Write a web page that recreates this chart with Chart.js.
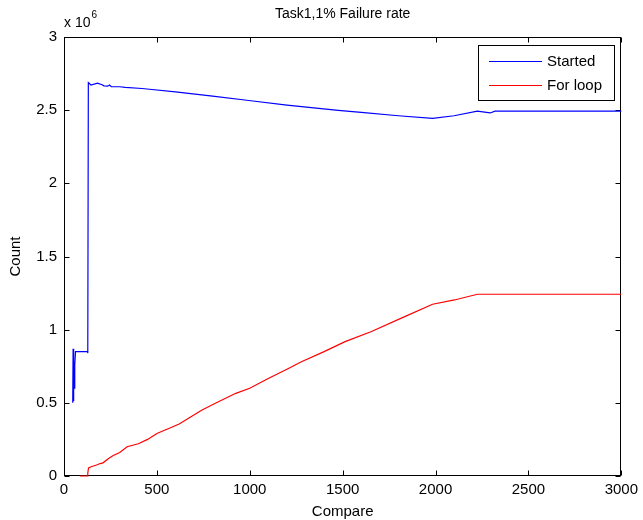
<!DOCTYPE html>
<html>
<head>
<meta charset="utf-8">
<script src="https://cdn.jsdelivr.net/npm/chart.js@4"></script>
<style>
  body { margin: 0; background: #fff; }
</style>
</head>
<body>
<canvas id="myChart" width="643" height="520"></canvas>
<script>
// donnees (y en millions)
var startedX = [47, 49, 51, 53, 55, 58, 62, 127, 128, 131, 145, 180, 205, 215, 235, 245, 255, 300, 330, 420, 460, 600, 800, 995, 1200, 1476, 1600, 1800, 1984, 2100, 2225, 2294, 2320, 3000];
var startedY = [0.5, 0.87, 0.51, 0.74, 0.6, 0.76, 0.85, 0.85, 0.84, 2.688, 2.672, 2.684, 2.674, 2.666, 2.664, 2.672, 2.66, 2.66, 2.656, 2.648, 2.643, 2.625, 2.596, 2.566, 2.535, 2.499, 2.485, 2.462, 2.444, 2.462, 2.493, 2.481, 2.493, 2.493];

var loopX = [85, 125, 128, 132, 150, 175, 195, 210, 240, 265, 300, 340, 400, 450, 500, 567, 620, 743, 820, 925, 1000, 1102, 1200, 1278, 1400, 1513, 1652, 1834, 1984, 2102, 2225, 3000];
var loopY = [0, 0, 0.02, 0.055, 0.065, 0.075, 0.085, 0.09, 0.12, 0.14, 0.16, 0.2, 0.22, 0.25, 0.29, 0.326, 0.355, 0.451, 0.5, 0.565, 0.6, 0.668, 0.73, 0.781, 0.85, 0.918, 0.986, 1.089, 1.174, 1.203, 1.242, 1.242];

var xTicks = [0, 500, 1000, 1500, 2000, 2500, 3000];
var yTicks = [0, 0.5, 1, 1.5, 2, 2.5, 3];

var seriesNames = ['Started', 'For loop'];
var seriesColors = ['#0000ff', '#ff0000'];

function toPoints(xs, ys) {
    var arr = [];
    for (let i = 0; i < xs.length; i++) {
        arr.push({ x: xs[i], y: ys[i] * 1e6 });
    }
    return arr;
}

var FONT = '"Liberation Sans", Arial, sans-serif';
Chart.defaults.font.family = FONT;
Chart.defaults.font.size = 15;
Chart.defaults.color = '#000';

// cadre, ticks vers l'interieur, titres et legende facon matlab
var matlabLook = {
    id: 'matlabLook',
    beforeDatasetsDraw(chart) {
        var ctx = chart.ctx;
        var a = chart.chartArea;
        var xs = chart.scales.x, ys = chart.scales.y;
        var L = Math.round(a.left) + 0.5, R = Math.round(a.right) - 0.5;
        var T = Math.round(a.top) + 0.5, B = Math.round(a.bottom) - 0.5;
        ctx.save();
        ctx.strokeStyle = '#000';
        ctx.lineWidth = 1;
        ctx.strokeRect(L, T, R - L, B - T);
        ctx.beginPath();
        for (var v of xTicks) {
            var px = Math.round(xs.getPixelForValue(v)) + 0.5;
            ctx.moveTo(px, B); ctx.lineTo(px, B - 5);
            ctx.moveTo(px, T); ctx.lineTo(px, T + 5);
        }
        for (var w of yTicks) {
            var py = Math.round(ys.getPixelForValue(w * 1e6)) + 0.5;
            ctx.moveTo(L, py); ctx.lineTo(L + 5, py);
            ctx.moveTo(R, py); ctx.lineTo(R - 5, py);
        }
        ctx.stroke();
        ctx.restore();
    },
    afterDraw(chart) {
        var ctx = chart.ctx;
        var a = chart.chartArea;
        ctx.save();
        ctx.strokeStyle = '#000';
        ctx.lineWidth = 1;

        // titre
        ctx.fillStyle = '#000';
        ctx.font = '14px ' + FONT;
        ctx.textAlign = 'center';
        ctx.textBaseline = 'alphabetic';
        ctx.fillText('Task1,1% Failure rate', (a.left + a.right) / 2, 18);

        // x 10^6
        ctx.textAlign = 'left';
        ctx.font = '14px ' + FONT;
        ctx.fillText('x 10', 64, 27);
        var wx = ctx.measureText('x 10').width;
        ctx.font = '10px ' + FONT;
        ctx.fillText('6', 64 + wx + 1, 18);

        // titres des axes
        ctx.font = '15px ' + FONT;
        ctx.textAlign = 'center';
        ctx.fillText('Compare', (a.left + a.right) / 2, 516);
        ctx.save();
        ctx.translate(20, (a.top + a.bottom) / 2);
        ctx.rotate(-Math.PI / 2);
        ctx.fillText('Count', 0, 0);
        ctx.restore();

        // legende
        ctx.fillStyle = '#fff';
        ctx.fillRect(478.5, 45.5, 136, 55);
        ctx.strokeRect(478.5, 45.5, 136, 55);
        var rows = [61, 85];
        for (let i = 0; i < seriesNames.length; i++) {
            ctx.strokeStyle = seriesColors[i];
            ctx.lineWidth = 1.2;
            ctx.beginPath();
            ctx.moveTo(489, rows[i] + 0.5);
            ctx.lineTo(542, rows[i] + 0.5);
            ctx.stroke();
            ctx.fillStyle = '#000';
            ctx.textAlign = 'left';
            ctx.textBaseline = 'middle';
            ctx.font = '15px ' + FONT;
            ctx.fillText(seriesNames[i], 547, rows[i] + 1);
        }
        ctx.restore();
    }
};

var ctx = document.getElementById('myChart').getContext('2d');
var myChart = new Chart(ctx, {
    type: 'line',
    data: {
        datasets: [{
            label: seriesNames[0],
            data: toPoints(startedX, startedY),
            borderColor: seriesColors[0],
            borderWidth: 1.2,
            pointRadius: 0,
            tension: 0,
            clip: 3
        }, {
            label: seriesNames[1],
            data: toPoints(loopX, loopY),
            borderColor: seriesColors[1],
            borderWidth: 1.2,
            pointRadius: 0,
            tension: 0,
            clip: 3
        }]
    },
    options: {
        responsive: false,
        animation: false,
        layout: { padding: { top: 37, right: 18, left: 0, bottom: 0 } },
        plugins: {
            legend: { display: false },
            title: { display: false },
            tooltip: { enabled: false }
        },
        scales: {
            x: {
                type: 'linear',
                min: 0,
                max: 3000,
                afterBuildTicks: function (scale) {
                    scale.ticks = xTicks.map(v => ({ value: v }));
                },
                ticks: {
                    padding: 5,
                    maxRotation: 0,
                    autoSkip: false,
                    callback: function (value) { return String(value); }
                },
                grid: { display: false, drawTicks: false },
                border: { display: false },
                afterFit: function (scale) { scale.height = 44; }
            },
            y: {
                type: 'linear',
                min: 0,
                max: 3e6,
                afterBuildTicks: function (scale) {
                    scale.ticks = yTicks.map(v => ({ value: v * 1e6 }));
                },
                ticks: {
                    padding: 7,
                    autoSkip: false,
                    callback: function (value) { return String(value / 1e6); }
                },
                grid: { display: false, drawTicks: false },
                border: { display: false },
                afterFit: function (scale) { scale.width = 64; }
            }
        }
    },
    plugins: [matlabLook]
});
</script>
</body>
</html>
